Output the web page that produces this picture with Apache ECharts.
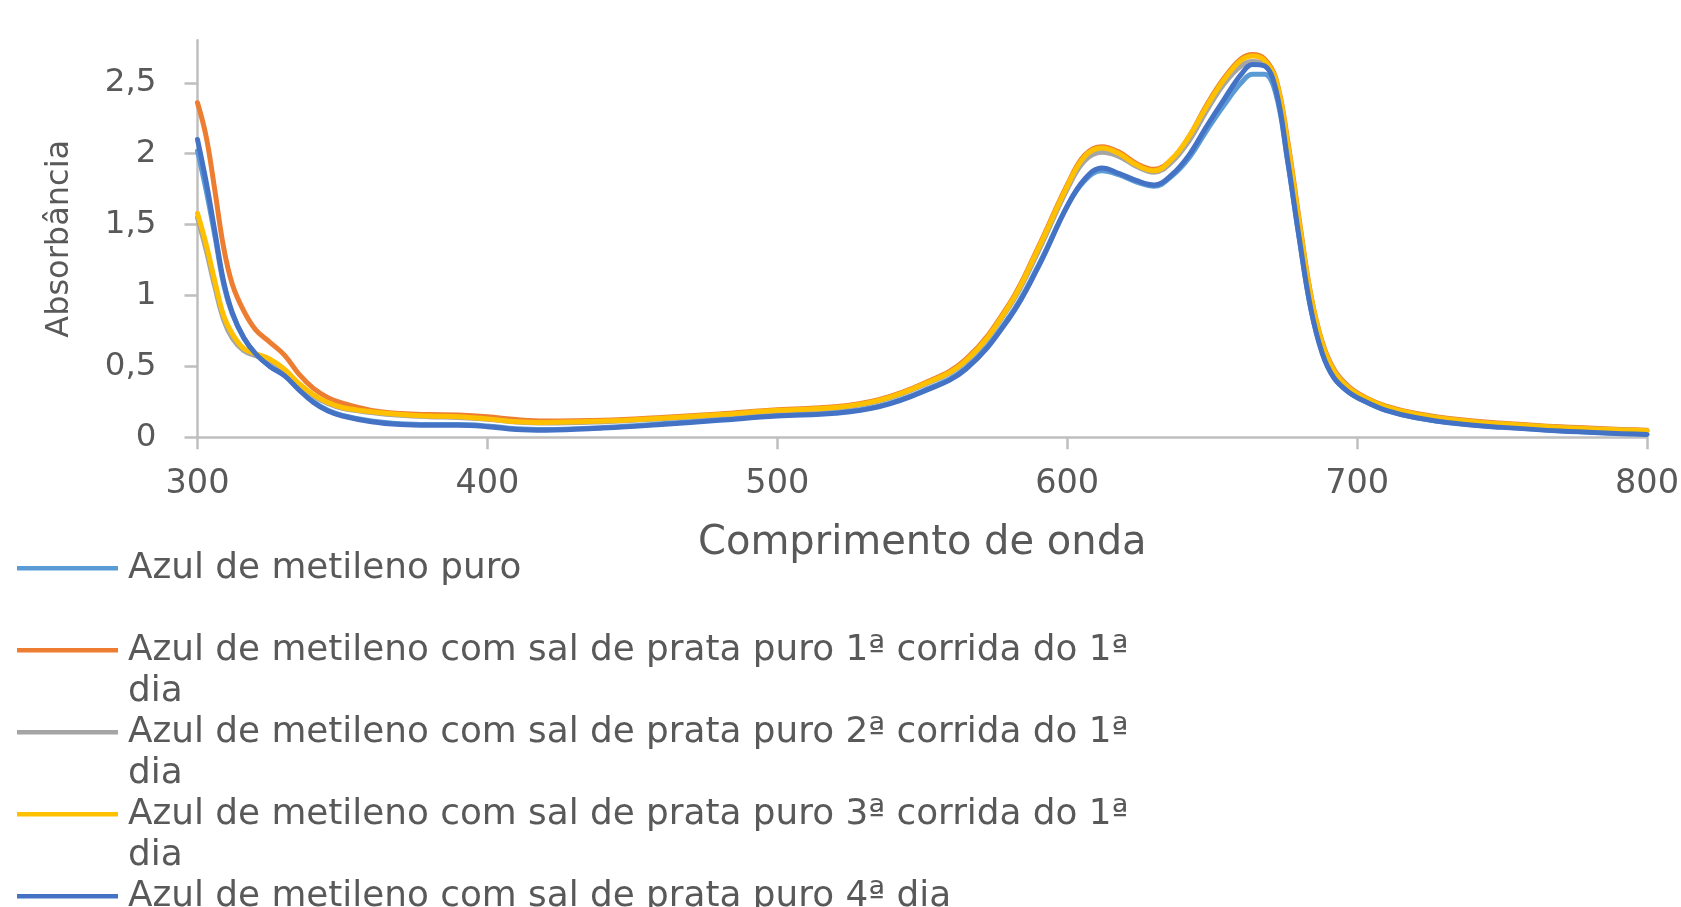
<!DOCTYPE html>
<html lang="pt">
<head>
<meta charset="utf-8">
<title>Absorbância – Azul de metileno</title>
<script src="https://cdn.jsdelivr.net/npm/echarts@6/dist/echarts.min.js"></script>
<style>
  html, body { margin: 0; padding: 0; background: #ffffff; }
  #chart { width: 1681px; height: 907px; }
</style>
</head>
<body>
<div id="chart"></div>
<script>
// Wavelengths (nm) shared by every spectrum
const wavelengths = [300, 303, 306, 309, 312, 316, 320, 325, 330, 335, 340, 345, 350, 360, 370, 380, 390, 400, 410, 420,
  440, 460, 480, 500, 520, 535, 550, 565, 580, 590, 600, 606, 612, 618, 624, 630, 636, 642, 648, 654,
  660, 664, 668, 672, 676, 680, 684, 688, 692, 697, 703, 710, 720, 735, 750, 770, 800];

// Absorbance readings for each sample
const absPuro = [2.02, 1.74, 1.42, 1.08, 0.87, 0.70, 0.59, 0.50, 0.435, 0.34, 0.25, 0.19, 0.155, 0.115, 0.095, 0.09, 0.09, 0.08, 0.06, 0.055,
  0.07, 0.095, 0.125, 0.155, 0.175, 0.22, 0.325, 0.49, 0.85, 1.21, 1.63, 1.81, 1.88, 1.85, 1.80, 1.77, 1.84, 1.97, 2.16, 2.34,
  2.50, 2.56, 2.56, 2.42, 1.95, 1.41, 0.91, 0.60, 0.42, 0.32, 0.25, 0.19, 0.14, 0.097, 0.072, 0.047, 0.022];

const absCorrida1 = [2.36, 2.12, 1.74, 1.34, 1.08, 0.89, 0.76, 0.67, 0.58, 0.445, 0.345, 0.28, 0.24, 0.19, 0.168, 0.16, 0.157, 0.145, 0.125, 0.115,
  0.12, 0.14, 0.165, 0.195, 0.215, 0.265, 0.375, 0.55, 0.94, 1.34, 1.78, 1.99, 2.05, 2.01, 1.93, 1.89, 1.96, 2.12, 2.34, 2.53,
  2.67, 2.70, 2.67, 2.53, 2.10, 1.54, 1.01, 0.67, 0.48, 0.36, 0.28, 0.22, 0.17, 0.125, 0.10, 0.075, 0.05];

const absCorrida2 = [1.55, 1.32, 1.06, 0.83, 0.70, 0.61, 0.575, 0.54, 0.47, 0.375, 0.292, 0.238, 0.204, 0.175, 0.155, 0.145, 0.14, 0.128, 0.108, 0.10,
  0.11, 0.13, 0.155, 0.185, 0.205, 0.255, 0.365, 0.535, 0.92, 1.31, 1.75, 1.95, 2.01, 1.98, 1.91, 1.87, 1.94, 2.09, 2.30, 2.49,
  2.62, 2.65, 2.64, 2.50, 2.07, 1.51, 0.99, 0.65, 0.47, 0.35, 0.272, 0.212, 0.163, 0.118, 0.094, 0.069, 0.045];

const absCorrida3 = [1.58, 1.36, 1.10, 0.86, 0.73, 0.625, 0.59, 0.55, 0.48, 0.38, 0.30, 0.245, 0.21, 0.18, 0.16, 0.15, 0.145, 0.13, 0.11, 0.105,
  0.115, 0.135, 0.16, 0.19, 0.21, 0.26, 0.37, 0.54, 0.93, 1.33, 1.77, 1.98, 2.04, 2.00, 1.92, 1.88, 1.96, 2.12, 2.33, 2.52,
  2.66, 2.69, 2.66, 2.52, 2.08, 1.52, 1.00, 0.66, 0.47, 0.35, 0.275, 0.215, 0.165, 0.12, 0.095, 0.07, 0.047];

const absDia4 = [2.10, 1.80, 1.45, 1.10, 0.88, 0.70, 0.59, 0.50, 0.435, 0.335, 0.245, 0.185, 0.15, 0.11, 0.09, 0.085, 0.085, 0.075, 0.055, 0.05,
  0.065, 0.09, 0.12, 0.15, 0.17, 0.215, 0.32, 0.48, 0.84, 1.20, 1.63, 1.82, 1.90, 1.86, 1.81, 1.78, 1.85, 1.99, 2.19, 2.38,
  2.56, 2.63, 2.62, 2.45, 1.96, 1.41, 0.91, 0.59, 0.42, 0.32, 0.25, 0.19, 0.14, 0.095, 0.07, 0.045, 0.02];

const seriesNames = [
  'Azul de metileno puro',
  'Azul de metileno com sal de prata puro 1ª corrida do 1ª dia',
  'Azul de metileno com sal de prata puro 2ª corrida do 1ª dia',
  'Azul de metileno com sal de prata puro 3ª corrida do 1ª dia',
  'Azul de metileno com sal de prata puro 4ª dia'
];

// Legend text as wrapped in the legend box (blank second line keeps rows even)
const legendLabels = [
  'Azul de metileno puro\n ',
  'Azul de metileno com sal de prata puro 1ª corrida do 1ª\ndia',
  'Azul de metileno com sal de prata puro 2ª corrida do 1ª\ndia',
  'Azul de metileno com sal de prata puro 3ª corrida do 1ª\ndia',
  'Azul de metileno com sal de prata puro 4ª dia\n '
];

const seriesColors = ['#5B9BD5', '#ED7D31', '#A5A5A5', '#FFC000', '#4472C4'];
const yTickValues = [0, 0.5, 1, 1.5, 2, 2.5];
const xTickValues = [300, 400, 500, 600, 700, 800];

const seriesValues = [absPuro, absCorrida1, absCorrida2, absCorrida3, absDia4];

const FONT = 'DejaVu Sans';
const TEXT = '#595959';
const AXIS = '#BFBFBF';

// Legend swatch: a bar level with the first text line inside an 82px-tall row
const swatch = 'path://M0,0L106,0M0,18.25L101,18.25L101,22.75L0,22.75ZM0,82L106,82';

const series = seriesValues.map((vals, i) => ({
  name: seriesNames[i],
  type: 'line',
  data: wavelengths.map((w, k) => [w, vals[k]]),
  smooth: 0.4,
  showSymbol: false,
  symbol: 'none',
  lineStyle: { width: 5, color: seriesColors[i], cap: 'round', join: 'round' },
  itemStyle: { color: seriesColors[i] },
  emphasis: { disabled: true },
  z: 2 + i
}));

const chart = echarts.init(document.getElementById('chart'), null, { renderer: 'canvas' });

chart.setOption({
  animation: false,
  backgroundColor: '#ffffff',
  textStyle: { fontFamily: FONT },
  grid: {
    left: 197.5, right: 34, top: 40.3, bottom: 469.7,
    containLabel: false, outerBoundsMode: 'none'
  },
  xAxis: {
    type: 'value',
    min: 300, max: 800, interval: 100,
    name: 'Comprimento de onda',
    nameLocation: 'middle',
    nameGap: 86,
    nameTextStyle: { fontFamily: FONT, fontSize: 40, color: TEXT },
    axisLine: { show: true, lineStyle: { color: AXIS, width: 2.5 } },
    axisTick: { show: true, inside: false, length: 12, lineStyle: { color: AXIS, width: 2.5 }, customValues: xTickValues },
    axisLabel: { fontFamily: FONT, fontSize: 33.5, color: TEXT, margin: 30, customValues: xTickValues },
    splitLine: { show: false }
  },
  yAxis: {
    type: 'value',
    min: 0, max: 2.8, interval: 0.5,
    name: 'Absorbância',
    nameLocation: 'middle',
    nameRotate: 90,
    nameGap: 122,
    nameTextStyle: { fontFamily: FONT, fontSize: 32, color: TEXT },
    axisLine: { show: true, lineStyle: { color: AXIS, width: 2.5 } },
    axisTick: { show: true, inside: false, length: 13, lineStyle: { color: AXIS, width: 2.5 }, customValues: yTickValues },
    axisLabel: {
      fontFamily: FONT, fontSize: 32.5, color: TEXT, margin: 41,
      customValues: yTickValues,
      formatter: v => String(v).replace('.', ',')
    },
    splitLine: { show: false }
  },
  legend: {
    orient: 'vertical',
    left: 17,
    top: 547.8,
    height: 800,
    padding: 0,
    itemGap: 0,
    itemWidth: 106,
    itemHeight: 82,
    symbolKeepAspect: false,
    selectedMode: false,
    itemStyle: { borderWidth: 0 },
    data: seriesNames.map(n => ({ name: n, icon: swatch })),
    formatter: name => legendLabels[seriesNames.indexOf(name)],
    textStyle: { fontFamily: FONT, fontSize: 35.8, color: TEXT, lineHeight: 41 }
  },
  series: series
});
</script>
</body>
</html>
